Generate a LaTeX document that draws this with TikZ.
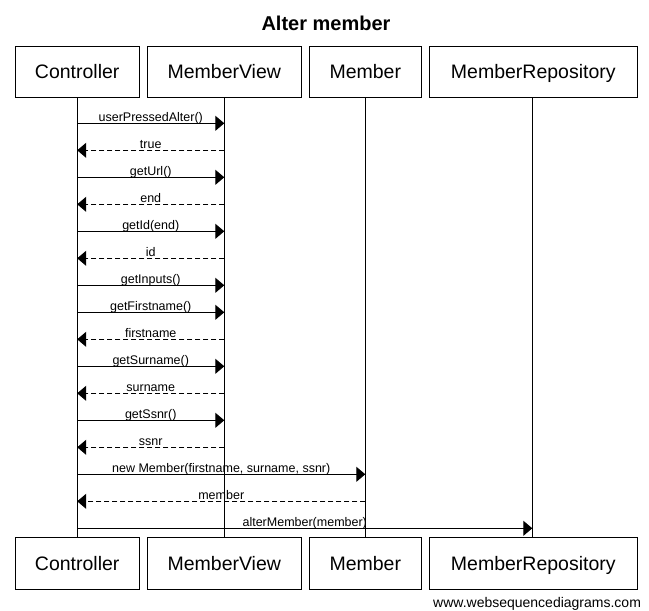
\documentclass[tikz,border=0pt]{standalone}
\usepackage{fontspec}
\setmainfont{Liberation Sans}
\usetikzlibrary{arrows.meta}

\begin{document}
\begin{tikzpicture}[x=1pt,y=-1pt,
  actor/.style={draw, line width=1pt, minimum height=51.5pt, inner sep=0pt, text height=14pt, text depth=0pt, font=\fontsize{19.5}{22}\selectfont},
  msg/.style={line width=0.9pt, -{Triangle[length=9pt,width=15pt]}},
  reply/.style={msg, dash pattern=on 5pt off 3pt},
  lbl/.style={anchor=base, yshift=2pt, inner sep=0pt, font=\fontsize{12.5}{14}\selectfont}]

\useasboundingbox (0,0) rectangle (649,611);

\node[anchor=base, font=\fontsize{20}{24}\selectfont\bfseries] (title) at (326,30) {Alter member};

% participants, top and bottom
\node[actor, minimum width=124.3pt] (ctl) at (77.2,71.75) {Controller};
\node[actor, minimum width=154pt] (view) at (224.3,71.75) {MemberView};
\node[actor, minimum width=112pt] (mem) at (365.3,71.75) {Member};
\node[actor, minimum width=208pt] (repo) at (533.3,71.75) {MemberRepository};

\node[actor, minimum width=124.3pt] (ctlB) at (77.2,563.5) {Controller};
\node[actor, minimum width=154pt] (viewB) at (224.3,563.5) {MemberView};
\node[actor, minimum width=112pt] (memB) at (365.3,563.5) {Member};
\node[actor, minimum width=208pt] (repoB) at (533.3,563.5) {MemberRepository};

% lifelines
\draw[line width=1pt] (ctl) -- (ctlB);
\draw[line width=1pt] (view) -- (viewB);
\draw[line width=1pt] (mem) -- (memB);
\draw[line width=1pt] (repo.south -| 532.3,0) -- (repoB.north -| 532.3,0);

% messages
\draw[msg] (ctl |- 0,123.3) -- (view |- 0,123.3) node[midway,lbl] {userPressedAlter()};
\draw[reply] (view |- 0,150.3) -- (ctl |- 0,150.3) node[midway,lbl] {true};
\draw[msg] (ctl |- 0,177.3) -- (view |- 0,177.3) node[midway,lbl] {getUrl()};
\draw[reply] (view |- 0,204.3) -- (ctl |- 0,204.3) node[midway,lbl] {end};
\draw[msg] (ctl |- 0,231.3) -- (view |- 0,231.3) node[midway,lbl] {getId(end)};
\draw[reply] (view |- 0,258.3) -- (ctl |- 0,258.3) node[midway,lbl] {id};
\draw[msg] (ctl |- 0,285.3) -- (view |- 0,285.3) node[midway,lbl] {getInputs()};
\draw[msg] (ctl |- 0,312.3) -- (view |- 0,312.3) node[midway,lbl] {getFirstname()};
\draw[reply] (view |- 0,339.3) -- (ctl |- 0,339.3) node[midway,lbl] {firstname};
\draw[msg] (ctl |- 0,366.3) -- (view |- 0,366.3) node[midway,lbl] {getSurname()};
\draw[reply] (view |- 0,393.3) -- (ctl |- 0,393.3) node[midway,lbl] {surname};
\draw[msg] (ctl |- 0,420.3) -- (view |- 0,420.3) node[midway,lbl] {getSsnr()};
\draw[reply] (view |- 0,447.3) -- (ctl |- 0,447.3) node[midway,lbl] {ssnr};
\draw[msg] (ctl |- 0,474.3) -- (mem |- 0,474.3) node[midway,lbl] {new Member(firstname, surname, ssnr)};
\draw[reply] (mem |- 0,501.3) -- (ctl |- 0,501.3) node[midway,lbl] {member};
\draw[msg] (ctl |- 0,528.3) -- (532.3,528.3) node[midway,lbl] {alterMember(member)};

\node[anchor=base east, font=\fontsize{14}{16}\selectfont] (site) at (644.5,607) {www.websequencediagrams.com};

\end{tikzpicture}
\end{document}
